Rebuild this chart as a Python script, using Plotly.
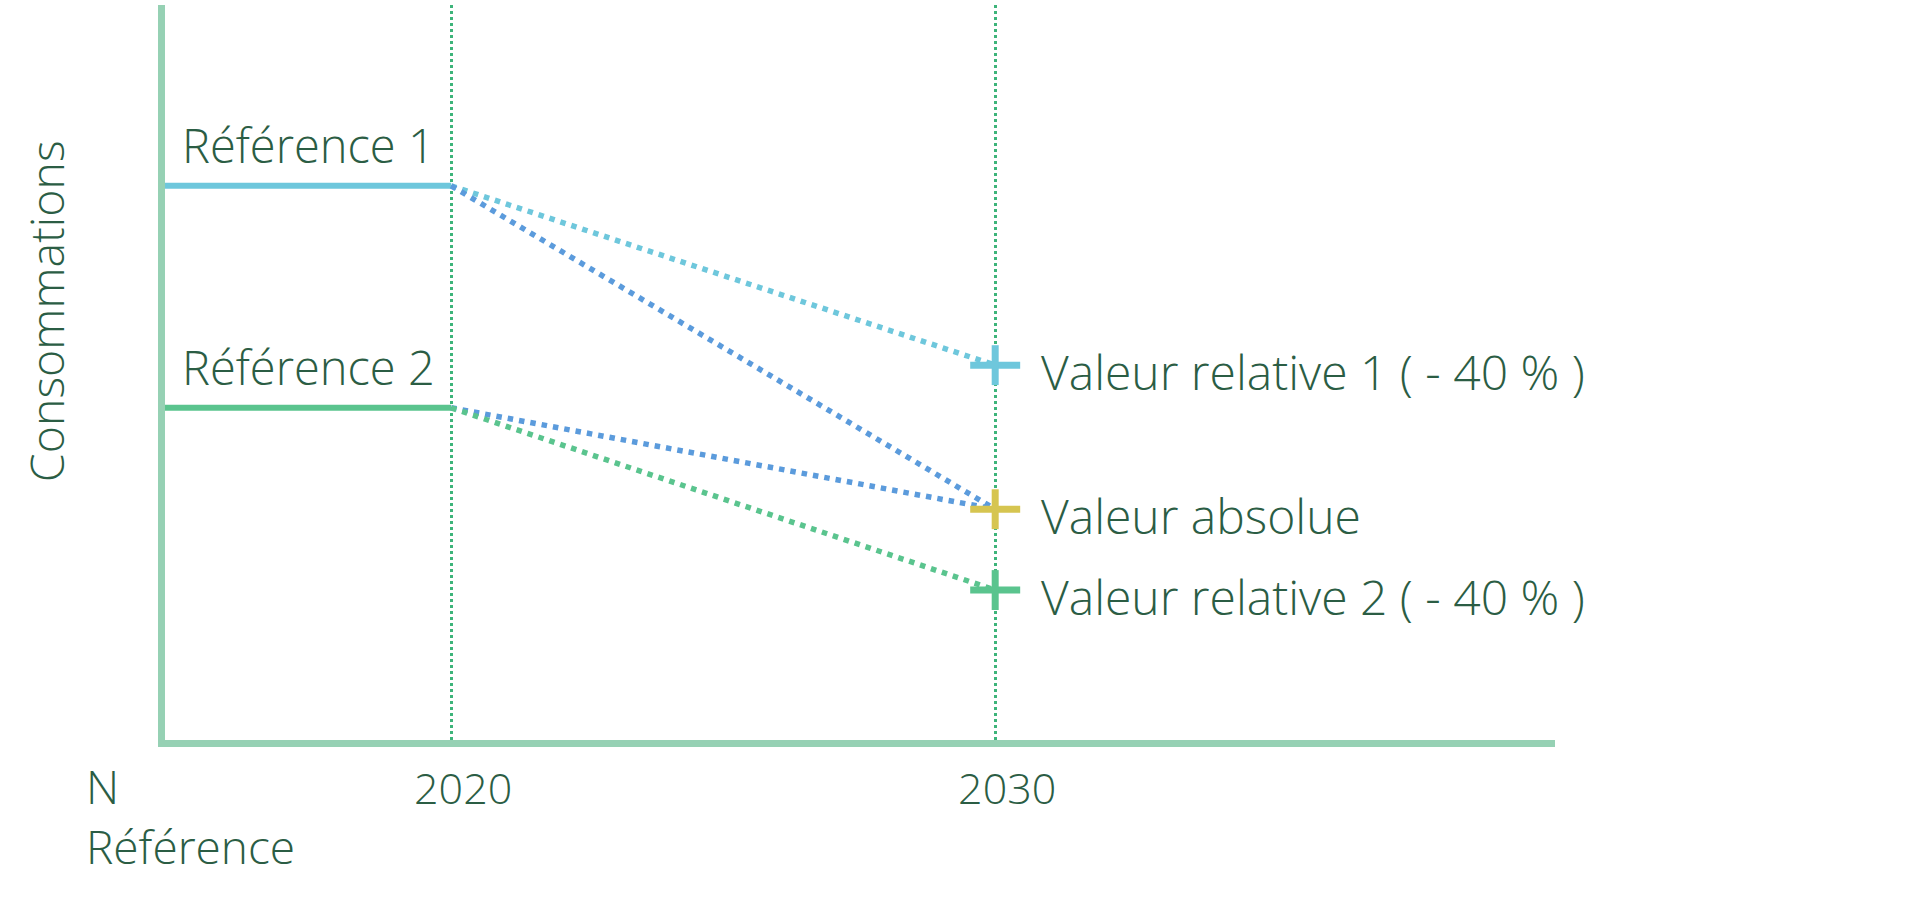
import plotly.graph_objects as go

# ---- data ----
start_label = "N<br>Référence"
years = [2020, 2030]
year_labels = ["2020", "2030"]
reference_names = ["Référence 1", "Référence 2"]
reference_values = [75.4, 45.2]
target_names = ["Valeur relative 1 ( - 40 % )", "Valeur absolue", "Valeur relative 2 ( - 40 % )"]
target_values = [51.0, 31.4, 20.4]
# connectors: (reference index, target index, colour key)
connectors = [(0, 0, "lightblue"), (0, 1, "blue"), (1, 1, "blue"), (1, 2, "green")]
y_title = "Consommations"

# ---- styles ----
C = {
    "lightblue": "#6ec7dc",
    "blue": "#5b9bdc",
    "green": "#5ac48e",
    "yellow": "#d6c550",
    "axis": "#96d1b4",
    "grid": "#3db47a",
    "text": "#2b5d44",
}
ref_colors = [C["lightblue"], C["green"]]
target_colors = [C["lightblue"], C["yellow"], C["green"]]
FONT = "Open Sans"
x_range = [2014.74, 2040.29]
y_range = [0, 100]

fig = go.Figure()

# horizontal reference lines
for name, val, col in zip(reference_names, reference_values, ref_colors):
    fig.add_trace(go.Scatter(
        x=[x_range[0], years[0]], y=[val, val], mode="lines",
        line=dict(color=col, width=6), hoverinfo="skip", name=name))

# dotted connectors
for ri, ti, ck in connectors:
    fig.add_trace(go.Scatter(
        x=[years[0], years[1]], y=[reference_values[ri], target_values[ti]],
        mode="lines", line=dict(color=C[ck], width=5.5, dash="5.5px,6px"),
        hoverinfo="skip"))

# plus markers at the target year
for sym, size in (("line-ew", 35.7), ("line-ns", 28.5)):
    fig.add_trace(go.Scatter(
        x=[years[1]] * len(target_values), y=target_values, mode="markers",
        marker=dict(symbol=sym, size=size, color=target_colors,
                    line=dict(color=target_colors, width=7)),
        hoverinfo="skip"))

ann = []
mid_x = (x_range[0] + years[0]) / 2
for name, val in zip(reference_names, reference_values):
    ann.append(dict(x=mid_x, y=val, xref="x", yref="y", text=name, showarrow=False,
                    xanchor="center", yanchor="bottom", yshift=7,
                    font=dict(family=FONT, size=47, color=C["text"], weight=300)))
for name, val in zip(target_names, target_values):
    ann.append(dict(x=years[1], y=val, xref="x", yref="y", text=name, showarrow=False,
                    xanchor="left", yanchor="middle", xshift=44, yshift=-6,
                    font=dict(family=FONT, size=48, color=C["text"], weight=300)))
ann.append(dict(x=-0.0583, y=-0.018, xref="paper", yref="paper", text=start_label,
                showarrow=False, xanchor="left", yanchor="top", align="left",
                font=dict(family=FONT, size=46, color=C["text"], weight=300)))
ann.append(dict(x=-0.0855, y=0.5837, xref="paper", yref="paper", text=y_title,
                showarrow=False, xanchor="center", yanchor="middle", textangle=-90,
                font=dict(family=FONT, size=46.5, color=C["text"], weight=300)))

fig.update_layout(
    width=1920, height=902,
    margin=dict(l=165, r=365, t=5, b=162, pad=0),
    plot_bgcolor="white", paper_bgcolor="white",
    showlegend=False,
    annotations=ann,
    xaxis=dict(range=x_range, tickvals=years, ticktext=year_labels,
               showline=True, linecolor=C["axis"], linewidth=7,
               showgrid=True, gridcolor=C["grid"], gridwidth=2.5, griddash="3px,3px",
               zeroline=False, ticks="", ticklabelshift=12, ticklabelstandoff=5,
               tickfont=dict(family=FONT, size=43, color=C["text"], weight=300),
               fixedrange=True),
    yaxis=dict(range=y_range, showline=True, linecolor=C["axis"], linewidth=7,
               showgrid=False, zeroline=False, ticks="", showticklabels=False,
               fixedrange=True),
)

fig.write_html("out.html")
